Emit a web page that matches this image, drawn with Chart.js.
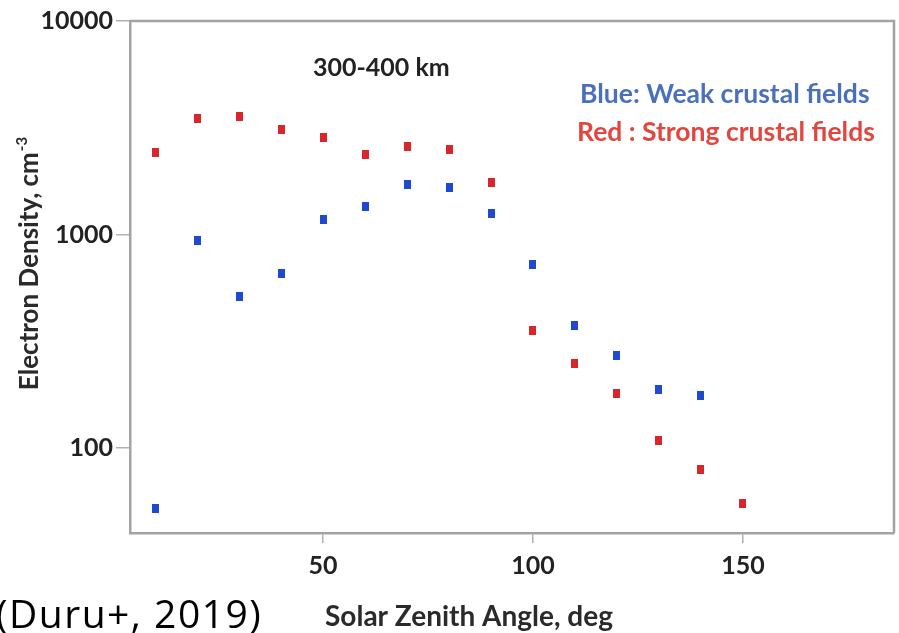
<!DOCTYPE html>
<html>
<head>
<meta charset="utf-8">
<script src="https://cdn.jsdelivr.net/npm/chart.js@4/dist/chart.umd.min.js"></script>
<style>
  html, body { margin: 0; padding: 0; background: #ffffff; }
  #wrap { width: 899px; height: 633px; }
</style>
</head>
<body>
<div id="wrap"><canvas id="densityChart" width="899" height="633"></canvas></div>
<script>
// solar zenith angle bins, deg
const szaWeak = [10, 20, 30, 40, 50, 60, 70, 80, 90, 100, 110, 120, 130, 140];
const szaStrong = [10, 20, 30, 40, 50, 60, 70, 80, 90, 100, 110, 120, 130, 140, 150];

// median electron density, cm^-3 (300-400 km)
const weakDensity = [52, 940, 515, 660, 1180, 1350, 1720, 1660, 1260, 725, 375, 272, 188, 177];
const strongDensity = [2430, 3480, 3570, 3090, 2850, 2380, 2580, 2490, 1760, 357, 249, 180, 109, 79, 55];

const xTicks = [50, 100, 150];
const yTicks = [100, 1000, 10000];

const BLUE = '#1f49d1';
const RED = '#d8262c';
const AXIS_GRAY = '#a3a3a3';
const FONT = 'Lato, "Open Sans", sans-serif';

// small upright rectangles as markers
function makeMarker(color) {
  const c = document.createElement('canvas');
  c.width = 7;
  c.height = 9;
  const g = c.getContext('2d');
  g.fillStyle = color;
  g.fillRect(0, 0, 7, 9);
  return c;
}

function toPoints(xs, ys) {
  return xs.map((x, i) => ({ x: x, y: ys[i] }));
}

// frame on top/right plus the free text (label, key, axis titles)
const annotations = {
  id: 'annotations',
  afterDraw(chart) {
    const ctx = chart.ctx;
    const area = chart.chartArea;
    ctx.save();

    ctx.strokeStyle = AXIS_GRAY;
    ctx.lineWidth = 2.5;
    ctx.beginPath();
    ctx.moveTo(area.left, area.top);
    ctx.lineTo(area.right, area.top);
    ctx.lineTo(area.right, area.bottom);
    ctx.stroke();

    ctx.textBaseline = 'middle';
    ctx.textAlign = 'left';
    ctx.fillStyle = '#222';
    ctx.font = 'bold 25px ' + FONT;
    ctx.fillText('300-400 km', 313, 68);

    ctx.font = 'bold 26.5px ' + FONT;
    ctx.fillStyle = '#4a70bd';
    ctx.fillText('Blue: Weak crustal fields', 580, 94);
    ctx.fillStyle = '#e1463f';
    ctx.fillText('Red : Strong crustal fields', 577, 132);

    // x axis title
    ctx.fillStyle = '#2a2a2a';
    ctx.font = 'bold 28px ' + FONT;
    ctx.textAlign = 'center';
    ctx.fillText('Solar Zenith Angle, deg', 469, 617);

    // y axis title with superscript
    ctx.save();
    ctx.translate(30, 264);
    ctx.rotate(-Math.PI / 2);
    const main = 'Electron Density, cm';
    ctx.font = 'bold 26px ' + FONT;
    const w1 = ctx.measureText(main).width;
    ctx.font = 'bold 15px ' + FONT;
    const w2 = ctx.measureText('-3').width;
    const x0 = -(w1 + w2) / 2;
    ctx.textAlign = 'left';
    ctx.font = 'bold 26px ' + FONT;
    ctx.fillText(main, x0, 0);
    ctx.font = 'bold 15px ' + FONT;
    ctx.fillText('-3', x0 + w1 + 1, -8);
    ctx.restore();

    // citation
    ctx.fillStyle = '#000';
    ctx.font = '39px "Open Sans", sans-serif';
    ctx.letterSpacing = '1.5px';
    ctx.textAlign = 'left';
    ctx.textBaseline = 'alphabetic';
    ctx.fillText('(Duru+, 2019)', -4, 628);

    ctx.restore();
  }
};

new Chart(document.getElementById('densityChart'), {
  type: 'scatter',
  data: {
    datasets: [
      {
        label: 'Weak crustal fields',
        data: toPoints(szaWeak, weakDensity),
        pointStyle: makeMarker(BLUE),
        backgroundColor: BLUE
      },
      {
        label: 'Strong crustal fields',
        data: toPoints(szaStrong, strongDensity),
        pointStyle: makeMarker(RED),
        backgroundColor: RED
      }
    ]
  },
  options: {
    responsive: false,
    animation: false,
    layout: { padding: { top: 21, right: 1, left: 0, bottom: 0 } },
    plugins: {
      legend: { display: false },
      tooltip: { enabled: false }
    },
    scales: {
      x: {
        type: 'linear',
        min: 4,
        max: 186,
        afterBuildTicks: s => { s.ticks = xTicks.map(v => ({ value: v })); },
        afterFit: s => { s.height = 100; },
        border: { color: AXIS_GRAY, width: 2.5 },
        grid: { drawOnChartArea: false, drawTicks: true, tickLength: 10, color: '#b0b0b0', lineWidth: 1.5 },
        ticks: { color: '#222', padding: 8, font: { family: FONT, size: 25, weight: 'bold' } }
      },
      y: {
        type: 'logarithmic',
        min: 40,
        max: 10000,
        afterBuildTicks: s => { s.ticks = yTicks.map(v => ({ value: v })); },
        afterFit: s => { s.width = 130; },
        border: { color: AXIS_GRAY, width: 2.5 },
        grid: { drawOnChartArea: false, drawTicks: true, tickLength: 14, color: '#b0b0b0', lineWidth: 1.5 },
        ticks: {
          color: '#222',
          padding: 3,
          font: { family: FONT, size: 25, weight: 'bold' },
          callback: v => String(v)
        }
      }
    }
  },
  plugins: [annotations]
});
</script>
</body>
</html>
